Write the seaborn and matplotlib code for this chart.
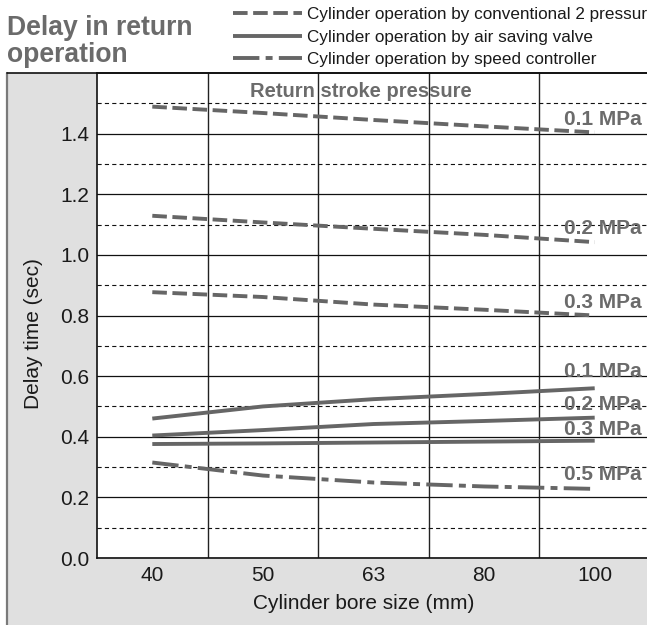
import numpy as np
import pandas as pd
import matplotlib
matplotlib.use("Agg")
import matplotlib.pyplot as plt
import seaborn as sns
from matplotlib.lines import Line2D
from matplotlib.patches import Rectangle

# ---------------- data ----------------
bore_sizes = ["40", "50", "63", "80", "100"]

conv_01 = [1.489, 1.468, 1.445, 1.424, 1.404]
conv_02 = [1.129, 1.107, 1.086, 1.066, 1.042]
conv_03 = [0.877, 0.861, 0.836, 0.819, 0.800]
asv_01 = [0.460, 0.500, 0.524, 0.541, 0.560]
asv_02 = [0.404, 0.422, 0.442, 0.452, 0.463]
asv_03 = [0.376, 0.378, 0.381, 0.384, 0.387]
spd_05 = [0.315, 0.272, 0.249, 0.236, 0.228]

legend_labels = [
    "Cylinder operation by conventional 2 pressure",
    "Cylinder operation by air saving valve",
    "Cylinder operation by speed controller",
]
pressure_labels = ["0.1 MPa", "0.2 MPa", "0.3 MPa", "0.1 MPa", "0.2 MPa", "0.3 MPa", "0.5 MPa"]
pressure_label_y = [1.429, 1.068, 0.824, 0.598, 0.488, 0.406, 0.257]

y_major = [0.0, 0.2, 0.4, 0.6, 0.8, 1.0, 1.2, 1.4]
y_minor = [0.1, 0.3, 0.5, 0.7, 0.9, 1.1, 1.3, 1.5]

# ---------------- style ----------------
sns.set_theme(style="white")
plt.rcParams['font.family'] = ['Liberation Sans', 'DejaVu Sans']
plt.rcParams['lines.scale_dashes'] = False

LINE_COLOR = '#666666'
LABEL_COLOR = '#6b6b6b'
LW = 2.8
DASHED = (0, (10.5, 4))
SOLID = '-'
DASHDOT = (0, (19, 4.5, 5, 4.5))

W, H = 647, 625
fig = plt.figure(figsize=(W / 100, H / 100), dpi=100)
fig.patch.set_facecolor('white')


def fx(px):
    return px / W


def fy(py):
    return 1 - py / H


# gray panel (behind the axes)
fig.patches.append(Rectangle((fx(7), -0.05), 1.2, fy(73) + 0.05, transform=fig.transFigure,
                             facecolor='#e0e0e0', edgecolor='none', zorder=-10))
fig.add_artist(Line2D([fx(7), fx(7)], [-0.05, fy(73)], transform=fig.transFigure,
                      color='#7a7a7a', lw=1.6, zorder=-5))
fig.add_artist(Line2D([fx(7), 1.05], [fy(73), fy(73)], transform=fig.transFigure,
                      color='#111111', lw=1.2, zorder=5))

ax = fig.add_axes([fx(97), fy(558), (650 - 97) / W, (558 - 73) / H])
ax.set_zorder(1)
ax.set_facecolor('white')

pos = np.arange(len(bore_sizes))
series = [
    (conv_01, DASHED), (conv_02, DASHED), (conv_03, DASHED),
    (asv_01, SOLID), (asv_02, SOLID), (asv_03, SOLID),
    (spd_05, DASHDOT),
]
for vals, ls in series:
    sns.lineplot(x=pos, y=vals, ax=ax, color=LINE_COLOR, linewidth=LW, linestyle=ls,
                 solid_capstyle='butt', dash_capstyle='butt')

ax.set_xlim(-0.5, len(bore_sizes) - 0.5)
ax.set_ylim(0, 1.6)
ax.set_xticks(pos)
ax.set_xticklabels(bore_sizes)
ax.set_xticks(pos[:-1] + 0.5, minor=True)
ax.set_yticks(y_major)
ax.set_yticklabels([f"{v:.1f}" for v in y_major])
ax.set_yticks(y_minor, minor=True)
ax.set_axisbelow(True)
ax.yaxis.grid(True, which='major', color='#111111', lw=0.9, ls='-')
ax.yaxis.grid(True, which='minor', color='#111111', lw=0.8, ls=(0, (3, 2.3)))
ax.xaxis.grid(True, which='minor', color='#222222', lw=1.0, ls='-')
ax.xaxis.grid(False, which='major')
ax.tick_params(which='both', length=0, labelsize=15, labelcolor='#1a1a1a')
ax.tick_params(axis='y', pad=5.5)
ax.tick_params(axis='x', pad=6)
for s in ['left', 'bottom', 'top']:
    ax.spines[s].set_color('#111111')
    ax.spines[s].set_linewidth(1.2)
ax.spines['right'].set_visible(False)

ax.set_xlabel("Cylinder bore size (mm)", fontsize=15, color='#1a1a1a')
ax.set_ylabel("Delay time (sec)", fontsize=15, color='#1a1a1a')
ax.xaxis.set_label_coords(0.482, -0.075)
ax.yaxis.set_label_coords(-0.097, 0.463)

# annotations
for lab, yv in zip(pressure_labels, pressure_label_y):
    ax.text(3.72, yv, lab, ha='left', va='baseline', fontsize=15, fontweight='bold',
            color=LABEL_COLOR, clip_on=False)
ax.text(1.887, 1.521, "Return stroke pressure", ha='center', va='baseline', fontsize=14.5,
        fontweight='bold', color=LABEL_COLOR)

# title
fig.text(fx(7), fy(35), "Delay in return", ha='left', va='baseline', fontsize=19.1,
         fontweight='bold', color=LABEL_COLOR)
fig.text(fx(7), fy(62), "operation", ha='left', va='baseline', fontsize=19.1,
         fontweight='bold', color=LABEL_COLOR)

# legend
handles = [Line2D([], [], color=LINE_COLOR, lw=LW, ls=DASHED, dash_capstyle='butt'),
           Line2D([], [], color=LINE_COLOR, lw=LW, ls=SOLID, solid_capstyle='butt'),
           Line2D([], [], color=LINE_COLOR, lw=LW, ls=DASHDOT, dash_capstyle='butt')]
leg = fig.legend(handles, legend_labels, loc='upper left', bbox_to_anchor=(fx(233), fy(7)),
                 frameon=False, fontsize=12.3, handlelength=4.05, handletextpad=0.3,
                 labelspacing=0.45, borderpad=0, borderaxespad=0)
for t in leg.get_texts():
    t.set_color('#1a1a1a')

fig.savefig("out.png", dpi=100)
